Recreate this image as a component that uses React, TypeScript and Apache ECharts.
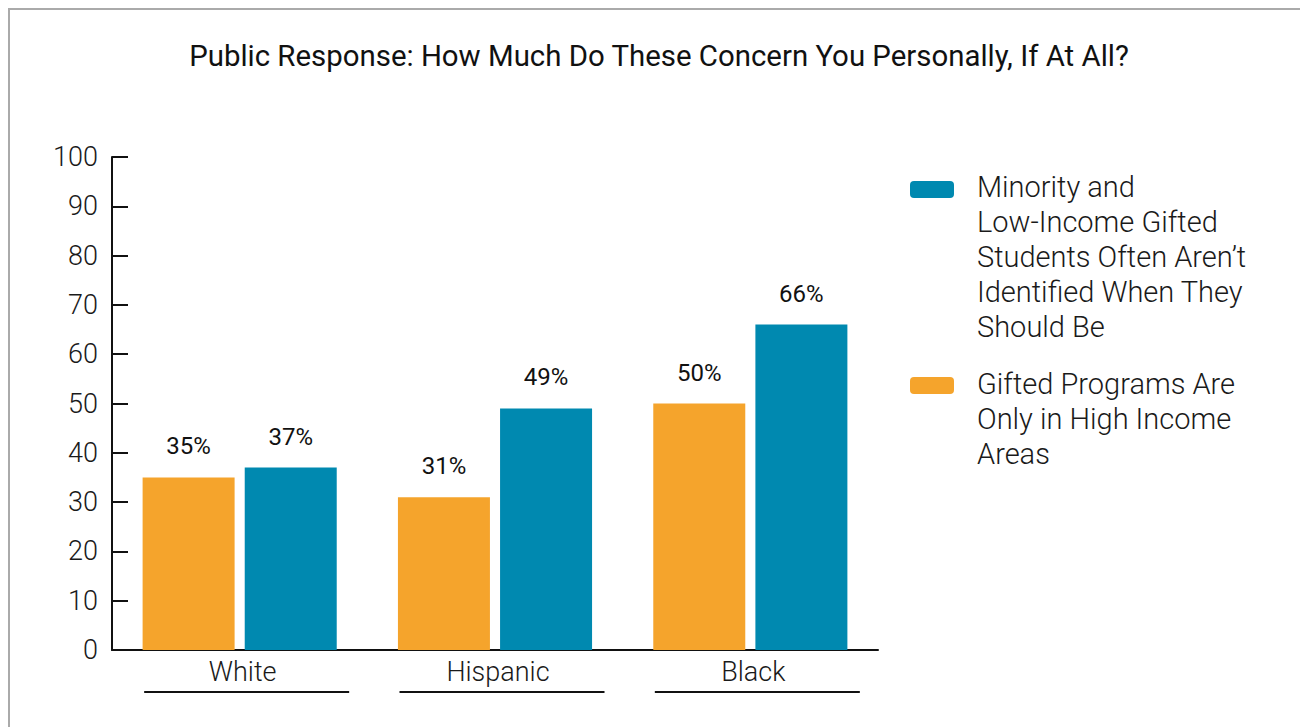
import React, { useEffect, useRef } from "react";
import * as echarts from "echarts";

const title = "Public Response: How Much Do These Concern You Personally, If At All?";
const categories = ["White", "Hispanic", "Black"];
const seriesNames = [
  "Gifted Programs Are Only in High Income Areas",
  "Minority and Low-Income Gifted Students Often Aren’t Identified When They Should Be",
];
const legendLines = [
  ["Gifted Programs Are", "Only in High Income", "Areas"],
  ["Minority and", "Low-Income Gifted", "Students Often Aren’t", "Identified When They", "Should Be"],
];
const giftedHighIncome = [35, 31, 50];
const minorityLowIncome = [37, 49, 66];
const colors = ["#F5A42C", "#0089B0"];
const yTicks = { min: 0, max: 100, interval: 10 };

export default function App() {
  const ref = useRef<HTMLDivElement>(null);
  useEffect(() => {
    if (!ref.current) return;
    const chart = echarts.init(ref.current, null, { renderer: "svg" });
    const font = "Roboto, 'Noto Sans', sans-serif";
    const legendItems: any[] = [];
    const legendPos = [
      { iconY: 367, textY: 356.5 },
      { iconY: 171, textY: 159.5 },
    ];
    [1, 0].forEach((i) => {
      legendItems.push({
        type: "rect",
        shape: { x: 900, y: legendPos[i].iconY, width: 44, height: 17, r: 4 },
        style: { fill: colors[i] },
      });
      legendItems.push({
        type: "text",
        x: 967,
        y: legendPos[i].textY,
        style: {
          text: legendLines[i].join("\n"),
          fontFamily: font,
          fontSize: 29,
          fontWeight: 300,
          lineHeight: 35,
          fill: "#1a1a1a",
          verticalAlign: "top",
          align: "left",
        },
      });
    });
    const barLabel = {
      show: true,
      position: "top",
      distance: 19,
      formatter: "{c}%",
      fontFamily: font,
      fontSize: 24,
      color: "#111",
    };
    chart.setOption({
      animation: false,
      backgroundColor: "#fff",
      title: {
        text: title,
        left: "center",
        top: 26,
        textStyle: { fontFamily: font, fontSize: 29.4, fontWeight: 400, color: "#111" },
      },
      grid: { left: 102, right: 430, top: 147, bottom: 77, containLabel: false },
      xAxis: {
        type: "category",
        data: categories,
        axisLine: { lineStyle: { color: "#111", width: 2 } },
        axisTick: { inside: true, length: 10, lineStyle: { color: "#111", width: 2 } },
        axisLabel: {
          margin: 6,
          formatter: (v: string) => `{a|${v}}\n{s|}{u|}`,
          rich: {
            a: { fontFamily: font, fontSize: 27, fontWeight: 300, color: "#1a1a1a", lineHeight: 32, padding: [0, 0, 0, 6] },
            s: { width: 14, height: 2, lineHeight: 8 },
            u: { width: 205, height: 2, lineHeight: 8, backgroundColor: "#111" },
          },
        },
      },
      yAxis: {
        type: "value",
        min: yTicks.min,
        max: yTicks.max,
        interval: yTicks.interval,
        splitLine: { show: false },
        axisLine: { show: true, lineStyle: { color: "#111", width: 2 } },
        axisTick: { show: true, inside: true, length: 16, lineStyle: { color: "#111", width: 2 } },
        axisLabel: { margin: 14, fontFamily: font, fontSize: 27, fontWeight: 300, color: "#1a1a1a" },
      },
      series: [
        {
          name: seriesNames[0],
          type: "bar",
          data: giftedHighIncome,
          barWidth: 92,
          barGap: "11%",
          itemStyle: { color: colors[0] },
          label: barLabel,
        },
        {
          name: seriesNames[1],
          type: "bar",
          data: minorityLowIncome,
          barWidth: 92,
          barGap: "11%",
          itemStyle: { color: colors[1] },
          label: barLabel,
        },
      ],
      graphic: legendItems,
    });
    return () => chart.dispose();
  }, []);
  return (
    <div
      style={{
        width: 1300,
        height: 719,
        borderTop: "2px solid #aaa",
        borderLeft: "2px solid #aaa",
        boxSizing: "border-box",
        overflow: "hidden",
      }}
    >
      <div ref={ref} style={{ width: 1298, height: 717 }} />
    </div>
  );
}
